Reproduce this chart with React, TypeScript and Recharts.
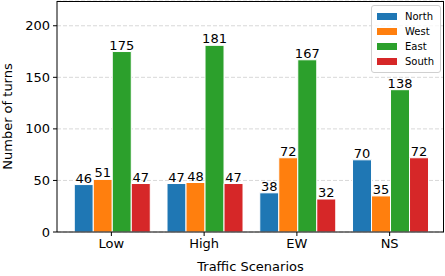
import React from 'react';
import { BarChart, Bar, XAxis, YAxis, CartesianGrid, LabelList, Label } from 'recharts';

const categories = ['Low', 'High', 'EW', 'NS'];
const north = [46, 47, 38, 70];
const west = [51, 48, 72, 35];
const east = [175, 181, 167, 138];
const south = [47, 47, 32, 72];
const yTicks = [0, 50, 100, 150, 200];

const seriesNames = ['North', 'West', 'East', 'South'];
const colors = ['#1f77b4', '#ff7f0e', '#2ca02c', '#d62728'];

const data = categories.map((c, i) => ({
  name: c,
  North: north[i],
  West: west[i],
  East: east[i],
  South: south[i],
}));

const FONT = 'DejaVu Sans, sans-serif';

const LegendBox = () => (
  <div
    style={{
      position: 'absolute',
      left: 371,
      top: 5,
      border: '1px solid #d0d0d0',
      borderRadius: 3,
      background: 'rgba(255,255,255,0.8)',
      padding: '3px 6px 3px 5px',
      fontFamily: FONT,
      fontSize: 10,
      color: '#000',
      lineHeight: '15px',
    }}
  >
    {seriesNames.map((n, i) => (
      <div key={n} style={{ display: 'flex', alignItems: 'center' }}>
        <span style={{ display: 'inline-block', width: 20, height: 7, background: colors[i], marginRight: 8 }} />
        <span>{n}</span>
      </div>
    ))}
  </div>
);

export default function App() {
  return (
    <div style={{ position: 'absolute', left: 0, top: 0, width: 445, height: 276, background: '#fff' }}>
      <BarChart
        width={445}
        height={276}
        data={data}
        margin={{ top: 1, right: 1, left: 0, bottom: 0 }}
        barCategoryGap="10%"
        barGap={0}
      >
        <CartesianGrid vertical={false} stroke="#d8d8d8" strokeDasharray="4 2" />
        <XAxis
          dataKey="name"
          height={44}
          padding={{ left: 8, right: 8 }}
          tick={{ fontFamily: FONT, fontSize: 13, fill: '#000' }}
          tickLine={{ stroke: '#000' }}
          axisLine={{ stroke: '#000' }}
          tickSize={4}
          tickMargin={3}
        >
          <Label
            content={({ viewBox }: any) => (
              <text
                x={viewBox.x + viewBox.width / 2}
                y={271}
                textAnchor="middle"
                fontFamily={FONT}
                fontSize={13}
                fill="#000"
              >
                Traffic Scenarios
              </text>
            )}
          />
        </XAxis>
        <YAxis
          width={57}
          domain={[0, 224]}
          ticks={yTicks}
          tick={{ fontFamily: FONT, fontSize: 13, fill: '#000' }}
          tickLine={{ stroke: '#000' }}
          axisLine={{ stroke: '#000' }}
          tickSize={4}
          tickMargin={3}
        >
          <Label
            content={({ viewBox }: any) => {
              const cx = 7;
              const cy = viewBox.y + viewBox.height / 2;
              return (
                <text
                  x={cx}
                  y={cy}
                  transform={`rotate(-90 ${cx} ${cy})`}
                  textAnchor="middle"
                  dominantBaseline="central"
                  fontFamily={FONT}
                  fontSize={13}
                  fill="#000"
                >
                  Number of turns
                </text>
              );
            }}
          />
        </YAxis>
        {seriesNames.map((n, i) => (
          <Bar key={n} dataKey={n} fill={colors[i]} stroke="#fff" strokeWidth={1} isAnimationActive={false}>
            <LabelList
              dataKey={n}
              position="top"
              offset={2}
              style={{ fontFamily: FONT, fontSize: 13, fill: '#000' }}
            />
          </Bar>
        ))}
      </BarChart>
      <div
        style={{
          position: 'absolute',
          left: 57,
          top: 1,
          width: 387,
          height: 231,
          borderTop: '1px solid #000',
          borderRight: '1px solid #000',
          boxSizing: 'border-box',
          pointerEvents: 'none',
        }}
      />
      <LegendBox />
    </div>
  );
}
